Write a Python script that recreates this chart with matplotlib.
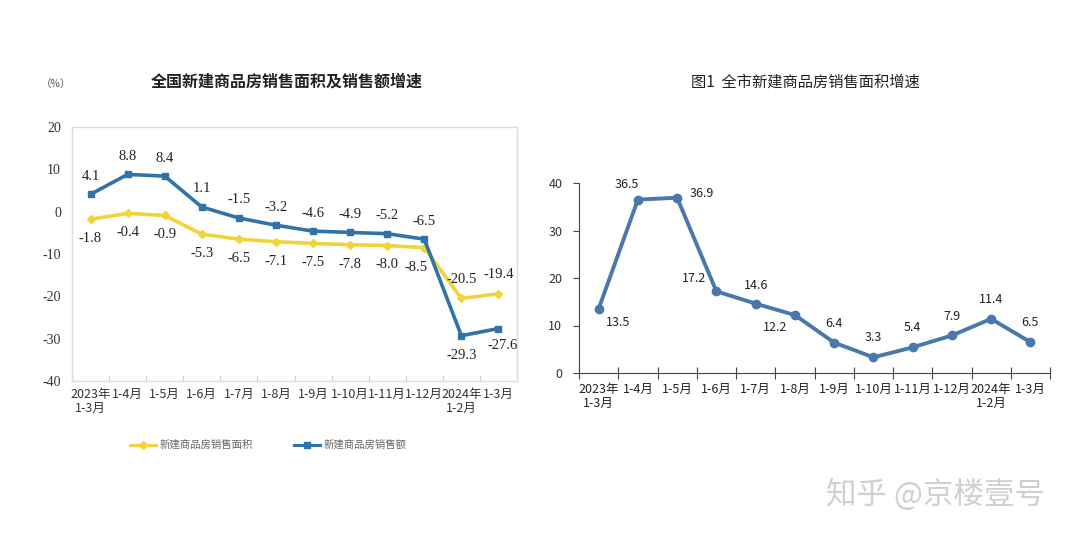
import matplotlib
matplotlib.use("Agg")
import matplotlib.pyplot as plt
import numpy as np

plt.rcParams['font.family'] = ['Noto Sans CJK SC', 'DejaVu Sans']

# ---- data ----
cats_left = ["2023年\n1-3月", "1-4月", "1-5月", "1-6月", "1-7月", "1-8月", "1-9月",
             "1-10月", "1-11月", "1-12月", "2024年\n1-2月", "1-3月"]
area_growth = [-1.8, -0.4, -0.9, -5.3, -6.5, -7.1, -7.5, -7.8, -8.0, -8.5, -20.5, -19.4]
sales_growth = [4.1, 8.8, 8.4, 1.1, -1.5, -3.2, -4.6, -4.9, -5.2, -6.5, -29.3, -27.6]
left_yticks = [20, 10, 0, -10, -20, -30, -40]

cats_right = ["2023年\n1-3月", "1-4月", "1-5月", "1-6月", "1-7月", "1-8月", "1-9月",
              "1-10月", "1-11月", "1-12月", "2024年\n1-2月", "1-3月"]
city_area_growth = [13.5, 36.5, 36.9, 17.2, 14.6, 12.2, 6.4, 3.3, 5.4, 7.9, 11.4, 6.5]
right_yticks = [0, 10, 20, 30, 40]

W, H = 1080, 540
fig = plt.figure(figsize=(10.8, 5.4), dpi=100)
fig.patch.set_facecolor("white")

def px_axes(l, t, r, b):
    return fig.add_axes([l / W, 1 - b / H, (r - l) / W, (b - t) / H])

serif = ['Liberation Serif', 'Noto Sans CJK SC']

# ---------------- left chart ----------------
YEL = "#f2d338"
BLU = "#2f73a8"
axL = px_axes(72, 127, 517, 381)
x = np.arange(len(cats_left))
axL.plot(x, area_growth, color=YEL, lw=2.6, marker="D", ms=4.5, mfc=YEL, mec=YEL, zorder=3)
axL.plot(x, sales_growth, color=BLU, lw=2.6, marker="s", ms=4.5, mfc=BLU, mec=BLU, zorder=4)
axL.set_xlim(-0.5, len(cats_left) - 0.5)
axL.set_ylim(-40, 20)
axL.set_yticks(left_yticks)
axL.set_yticklabels([str(v) for v in left_yticks], family=serif, fontsize=10, color="#333333")
axL.tick_params(axis="y", length=0, pad=8)
axL.set_xticks(np.arange(-0.5, len(cats_left), 1.0), minor=False)
axL.set_xticklabels([])
axL.set_xticks(x, minor=True)
axL.set_xticklabels(cats_left, minor=True, fontsize=9, color="#333333", linespacing=1.1)
axL.tick_params(axis="x", which="minor", length=0, pad=5)
axL.tick_params(axis="x", which="major", direction="in", length=4, color="#cccccc")
for s in axL.spines.values():
    s.set_color("#dddddd")
    s.set_linewidth(1.0)

for i, v in enumerate(sales_growth):
    if i == 10:
        off = (0, -14)
    elif i == 11:
        off = (3, -12)
    else:
        off = (0, 13)
    axL.annotate(f"{v}", (i, v), xytext=off, textcoords="offset points",
                 ha="center", va="center", family=serif, fontsize=10.5, color="#222222")
for i, v in enumerate(area_growth):
    if i == 9:
        off = (-6, -14)
    elif i in (10, 11):
        off = (0, 14)
    else:
        off = (0, -14)
    axL.annotate(f"{v}", (i, v), xytext=off, textcoords="offset points",
                 ha="center", va="center", family=serif, fontsize=10.5, color="#222222")

fig.text(56 / W, 1 - 84 / H, "（%）", fontsize=7.5, color="#555555", ha="center", va="center")
fig.text(287 / W, 1 - 82 / H, "全国新建商品房销售面积及销售额增速", fontsize=11.5,
         color="#222222", ha="center", va="center", fontweight="bold")

# legend (drawn manually in figure coordinates)
legL = [(130, 156, YEL, "D", "新建商品房销售面积"), (294, 320, BLU, "s", "新建商品房销售额")]
for x0, x1, c, m, lab in legL:
    fig.add_artist(plt.Line2D([x0 / W, x1 / W], [1 - 445 / H, 1 - 445 / H], color=c, lw=2.2,
                              transform=fig.transFigure))
    fig.add_artist(plt.Line2D([(x0 + x1) / 2 / W], [1 - 445 / H], color=c, marker=m, ms=4.5,
                              transform=fig.transFigure))
    fig.text((x1 + 4) / W, 1 - 445 / H, lab, fontsize=7.5, color="#666666", ha="left", va="center")

# ---------------- right chart ----------------
RB = "#4a78ac"
axR = px_axes(579, 183, 1050, 373)
x2 = np.arange(len(cats_right))
axR.plot(x2, city_area_growth, color=RB, lw=2.8, marker="o", ms=6, mfc=RB, mec=RB, zorder=3)
axR.set_xlim(-0.5, len(cats_right) - 0.5)
axR.set_ylim(0, 40)
axR.set_yticks(right_yticks)
axR.set_yticklabels([str(v) for v in right_yticks], fontsize=9, color="#333333")
axR.tick_params(axis="y", direction="out", length=4, color="#444444", pad=8)
axR.set_xticks(np.arange(-0.5, len(cats_right), 1.0))
axR.set_xticklabels([])
axR.set_xticks(x2, minor=True)
axR.set_xticklabels(cats_right, minor=True, fontsize=9, color="#222222", linespacing=1.1)
axR.tick_params(axis="x", which="minor", length=0, pad=7)
axR.tick_params(axis="x", which="major", direction="inout", length=8, color="#444444")
axR.spines["top"].set_visible(False)
axR.spines["right"].set_visible(False)
axR.spines["left"].set_color("#444444")
axR.spines["bottom"].set_color("#444444")

offsR = {0: (14, -10), 1: (-8, 11), 2: (18, 3), 3: (-16, 9), 4: (0, 13), 5: (-14, -9),
         6: (0, 14), 7: (0, 14), 8: (0, 14), 9: (0, 14), 10: (0, 14), 11: (0, 14)}
for i, v in enumerate(city_area_growth):
    axR.annotate(f"{v}", (i, v), xytext=offsR[i], textcoords="offset points",
                 ha="center", va="center", fontsize=9, color="#222222")

fig.text(805 / W, 1 - 82 / H, "图1  全市新建商品房销售面积增速", fontsize=11,
         color="#222222", ha="center", va="center")

# watermark
fig.text(935 / W, 1 - 495 / H, "知乎 @京楼壹号", fontsize=22, color="#d0d0d0",
         ha="center", va="center")

fig.savefig("out.png", dpi=100, facecolor="white")
